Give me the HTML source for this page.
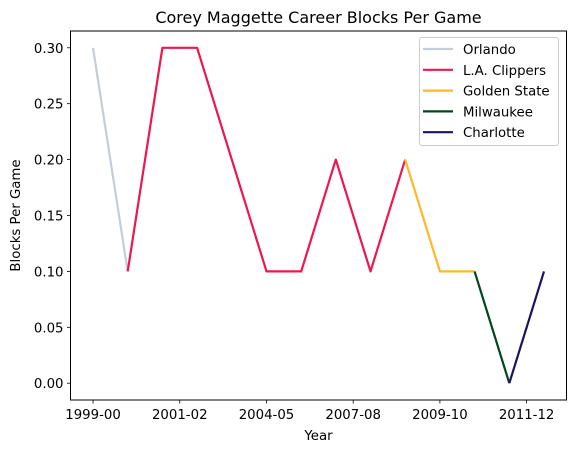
<!DOCTYPE html>
<html><head><meta charset="utf-8"><style>
body{margin:0;background:#fff;}
svg text{font-family:"DejaVu Sans","Liberation Sans",sans-serif;fill:#000;}
</style></head><body>
<svg id="chart" width="579" height="453" xmlns="http://www.w3.org/2000/svg"></svg>
<script>
const teams = ["Orlando","L.A. Clippers","Golden State","Milwaukee","Charlotte"];
const colors = ["#c4ced4","#ed174c","#fdb927","#00471b","#1d1160"];
const orlandoX = [0,1];
const orlandoY = [0.30,0.10];
const clippersX = [1,2,3,5,6,7,8,9];
const clippersY = [0.10,0.30,0.30,0.10,0.10,0.20,0.10,0.20];
const warriorsX = [9,10,11];
const warriorsY = [0.20,0.10,0.10];
const bucksX = [11,12];
const bucksY = [0.10,0.00];
const charlotteX = [12,13];
const charlotteY = [0.00,0.10];
const xTickPos = [0,2.5,5,7.5,10,12.5];
const xTickLabels = ["1999-00","2001-02","2004-05","2007-08","2009-10","2011-12"];
const yTicks = [0,0.05,0.10,0.15,0.20,0.25,0.30];

const NS="http://www.w3.org/2000/svg";
const svg=document.getElementById('chart');
const L=70.5,R=566.5,T=31,B=400;
const xmin=-0.65,xmax=13.65,ymin=-0.015,ymax=0.315;
const sx=v=>L+(v-xmin)/(xmax-xmin)*(R-L);
const sy=v=>B-(v-ymin)/(ymax-ymin)*(B-T);
function mk(tag,attrs,parent){const e=document.createElementNS(NS,tag);for(const k in attrs)e.setAttribute(k,attrs[k]);(parent||svg).appendChild(e);return e;}

const title=mk('text',{x:(L+R)/2,y:23,'text-anchor':'middle','font-size':16});


title.textContent="Corey Maggette Career Blocks Per Game";

const series=[[orlandoX,orlandoY],[clippersX,clippersY],[warriorsX,warriorsY],[bucksX,bucksY],[charlotteX,charlotteY]];
series.forEach((s,i)=>{
  const pts=s[0].map((x,j)=>sx(x).toFixed(1)+","+sy(s[1][j]).toFixed(1)).join(" ");
  const pl=mk('polyline',{points:pts,fill:'none',stroke:colors[i],'stroke-width':2.2,'stroke-linejoin':'round'});
  
  
});

const frame=mk('rect',{x:L,y:T,width:R-L,height:B-T,fill:'none',stroke:'#000','stroke-width':1});



xTickPos.forEach((p,i)=>{
  const x=sx(p);
  const t=mk('line',{x1:x,x2:x,y1:B,y2:B+3.5,stroke:'#000','stroke-width':0.8});
  
  
  const lb=mk('text',{x:x,y:B+19,'text-anchor':'middle','font-size':13.3});
  
  
  lb.textContent=xTickLabels[i];
});
yTicks.forEach(v=>{
  const y=sy(v);
  const t=mk('line',{x1:L-3.5,x2:L,y1:y,y2:y,stroke:'#000','stroke-width':0.8});
  
  
  const lb=mk('text',{x:L-7,y:y+5,'text-anchor':'end','font-size':13.3});
  
  
  lb.textContent=v.toFixed(2);
});
const xt=mk('text',{x:(L+R)/2,y:440,'text-anchor':'middle','font-size':13.3});


xt.textContent="Year";
const yt=mk('text',{x:0,y:0,'text-anchor':'middle','font-size':13.3,transform:'translate(20,'+((T+B)/2)+') rotate(-90)'});


yt.textContent="Blocks Per Game";

const lg=mk('g',{});


const lbox=mk('rect',{x:419.5,y:37.5,width:139,height:108,rx:2.5,fill:'#fff','fill-opacity':0.8,stroke:'#ccc','stroke-width':1},lg);


teams.forEach((n,i)=>{
  const y=49+i*20.8;
  const g=mk('g',{},lg);
  
  
  mk('line',{x1:423,x2:453,y1:y,y2:y,stroke:colors[i],'stroke-width':2.2},g);
  const t=mk('text',{x:463,y:y+5,'font-size':13.3},g);
  t.textContent=n;
});
</script>
</body></html>
